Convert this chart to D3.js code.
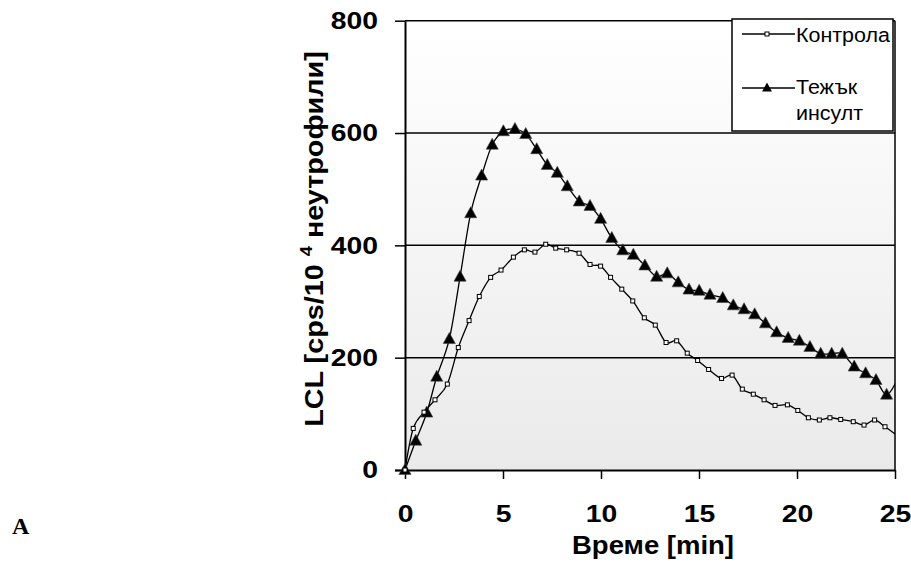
<!DOCTYPE html>
<html><head><meta charset="utf-8">
<script src="https://cdnjs.cloudflare.com/ajax/libs/d3/7.8.5/d3.min.js"></script>
<style>body{margin:0;background:#fff}svg{display:block}</style>
</head><body><svg id="c" width="911" height="565"></svg>
<script>
// ---- data ----
const xTicks = [0, 5, 10, 15, 20, 25];
const yTicks = [0, 200, 400, 600, 800];
const seriesNames = ["Контрола", "Тежък инсулт"];
// Контрола (time, min)
const controlTime = [0, 0.42, 0.97, 1.53, 2.16, 2.72, 3.27, 3.79, 4.37, 4.90, 5.53, 6.09, 6.63, 7.18, 7.69, 8.25, 8.88, 9.44, 9.98, 10.49, 11.06, 11.62, 12.21, 12.77, 13.32, 13.86, 14.40, 14.93, 15.49, 16.15, 16.69, 17.21, 17.77, 18.32, 18.88, 19.51, 20.04, 20.58, 21.14, 21.68, 22.23, 22.87, 23.42, 23.96, 24.49, 25.05];
const controlValue = [0, 74, 103, 125, 153, 218, 266, 309, 343, 356, 379, 392, 388, 402, 395, 392, 386, 366, 363, 343, 322, 301, 271, 258, 227, 230, 208, 195, 179, 163, 169, 144, 135, 125, 115, 116, 106, 93, 89, 93, 90, 86, 80, 89, 77, 63];
// Тежък инсулт
const strokeTime = [0, 0.55, 1.11, 1.62, 2.26, 2.81, 3.35, 3.91, 4.45, 5.02, 5.61, 6.16, 6.72, 7.26, 7.77, 8.28, 8.89, 9.44, 9.98, 10.55, 11.11, 11.65, 12.24, 12.84, 13.38, 13.94, 14.49, 15.01, 15.56, 16.21, 16.75, 17.30, 17.84, 18.39, 18.96, 19.55, 20.12, 20.66, 21.21, 21.77, 22.31, 22.92, 23.50, 24.03, 24.57, 25.13];
const strokeValue = [0, 52, 102, 166, 233, 344, 457, 524, 579, 603, 607, 598, 571, 543, 529, 505, 478, 470, 447, 413, 391, 383, 364, 344, 350, 334, 321, 319, 312, 306, 293, 286, 277, 261, 245, 235, 230, 219, 207, 207, 207, 184, 172, 160, 134, 162];

const svg = d3.select("#c");
const L = 405, R = 895, T = 20.7, B = 470;
const x = d3.scaleLinear().domain([0, 25]).range([L, R]);
const y = d3.scaleLinear().domain([0, 800]).range([B, T]);

const defs = svg.append("defs");
const g = defs.append("linearGradient").attr("id", "bg").attr("x1", 0).attr("y1", 0).attr("x2", 0).attr("y2", 1);
g.append("stop").attr("offset", "0%").attr("stop-color", "#ffffff");
g.append("stop").attr("offset", "100%").attr("stop-color", "#eaeaea");
defs.append("clipPath").attr("id", "clip").append("rect").attr("x", L).attr("y", T - 5).attr("width", R - L).attr("height", B - T + 10);

svg.append("rect").attr("x", L).attr("y", T).attr("width", R - L).attr("height", B - T).attr("fill", "url(#bg)");

// gridlines
svg.append("g").selectAll("line").data(yTicks.filter(d => d > 0)).join("line")
  .attr("x1", L).attr("x2", R).attr("y1", d => y(d)).attr("y2", d => y(d))
  .attr("stroke", "#000").attr("stroke-width", 1.5);
// right border
svg.append("line").attr("x1", R).attr("x2", R).attr("y1", T).attr("y2", B).attr("stroke", "#000").attr("stroke-width", 1.5);

const font = "'Liberation Sans', Arial, sans-serif";
const sx = 1.18;

// axes
const xa = svg.append("g").attr("transform", `translate(0,${B})`)
  .call(d3.axisBottom(x).tickValues(xTicks).tickSize(9).tickPadding(26).tickSizeOuter(0));
const ya = svg.append("g").attr("transform", `translate(${L},0)`)
  .call(d3.axisLeft(y).tickValues(yTicks).tickSize(10).tickPadding(17).tickSizeOuter(0));
[xa, ya].forEach(a => {
  a.select(".domain").attr("stroke", "#000").attr("stroke-width", 2);
  a.selectAll(".tick line").attr("stroke", "#000").attr("stroke-width", 1.5);
  a.selectAll("text").attr("font-family", font).attr("font-weight", "bold").attr("font-size", 24).attr("fill", "#000")
    .attr("transform", `scale(${sx},1)`);
});
ya.selectAll("text").attr("x", -27 / sx);
xa.select(".domain").attr("d", `M${L - 10},0.5H${R}`);

// lines
const plot = svg.append("g").attr("clip-path", "url(#clip)");
const line = d3.line().x(d => x(d[0])).y(d => y(d[1])).curve(d3.curveCatmullRom.alpha(0));
const ctrl = controlTime.map((t, i) => [t, controlValue[i]]);
const strk = strokeTime.map((t, i) => [t, strokeValue[i]]);
plot.append("path").attr("d", line(ctrl)).attr("fill", "none").attr("stroke", "#000").attr("stroke-width", 1.3);
plot.append("path").attr("d", line(strk)).attr("fill", "none").attr("stroke", "#000").attr("stroke-width", 1.3);

const tri = (cx, cy, s) => `M${cx},${cy - 0.6 * s}L${cx + 0.55 * s},${cy + 0.4 * s}L${cx - 0.55 * s},${cy + 0.4 * s}Z`;
svg.append("g").selectAll("path").data(strk.filter(d => d[0] <= 25)).join("path")
  .attr("d", d => tri(x(d[0]), y(d[1]), 11)).attr("fill", "#000").attr("stroke", "#444").attr("stroke-width", 0.6);
svg.append("g").selectAll("rect").data(ctrl.filter(d => d[0] <= 25)).join("rect")
  .attr("x", d => x(d[0]) - 2).attr("y", d => y(d[1]) - 2).attr("width", 4).attr("height", 4)
  .attr("fill", "#fff").attr("stroke", "#000").attr("stroke-width", 1);

// legend
const lg = svg.append("g");
lg.append("rect").attr("x", 732).attr("y", 19).attr("width", 161).attr("height", 112).attr("fill", "#fff").attr("stroke", "#000").attr("stroke-width", 1.5);
lg.append("line").attr("x1", 742).attr("x2", 795).attr("y1", 34).attr("y2", 34).attr("stroke", "#000").attr("stroke-width", 1.3);
lg.append("rect").attr("x", 765).attr("y", 32).attr("width", 4).attr("height", 4).attr("fill", "#fff").attr("stroke", "#000");
lg.append("line").attr("x1", 742).attr("x2", 795).attr("y1", 88).attr("y2", 88).attr("stroke", "#000").attr("stroke-width", 1.3);
lg.append("path").attr("d", tri(767, 88, 9)).attr("fill", "#000");
const parts = seriesNames[1].split(" ");
[[seriesNames[0], 42], [parts[0], 94], [parts[1], 120]].forEach(([t, yy]) => {
  lg.append("text").attr("transform", `translate(796,${yy}) scale(1.1,1)`).attr("font-family", font)
    .attr("font-size", 19.5).attr("fill", "#000").text(t);
});

// axis titles
svg.append("text").attr("transform", "translate(653,554) scale(1.1,1)").attr("text-anchor", "middle")
  .attr("font-family", font).attr("font-weight", "bold").attr("font-size", 25).text("Време [min]");
const yt = svg.append("text").attr("transform", "translate(323,239) rotate(-90) scale(1.15,1)").attr("text-anchor", "middle")
  .attr("font-family", font).attr("font-weight", "bold").attr("font-size", 25);
yt.append("tspan").text("LCL [cps/10 ");
yt.append("tspan").attr("font-size", 16).attr("dy", -11).text("4");
yt.append("tspan").attr("dy", 11).text(" неутрофили]");

svg.append("text").attr("x", 12).attr("y", 534).attr("font-family", "'Liberation Serif', 'Times New Roman', serif")
  .attr("font-weight", "bold").attr("font-size", 24).text("A");
</script></body></html>
